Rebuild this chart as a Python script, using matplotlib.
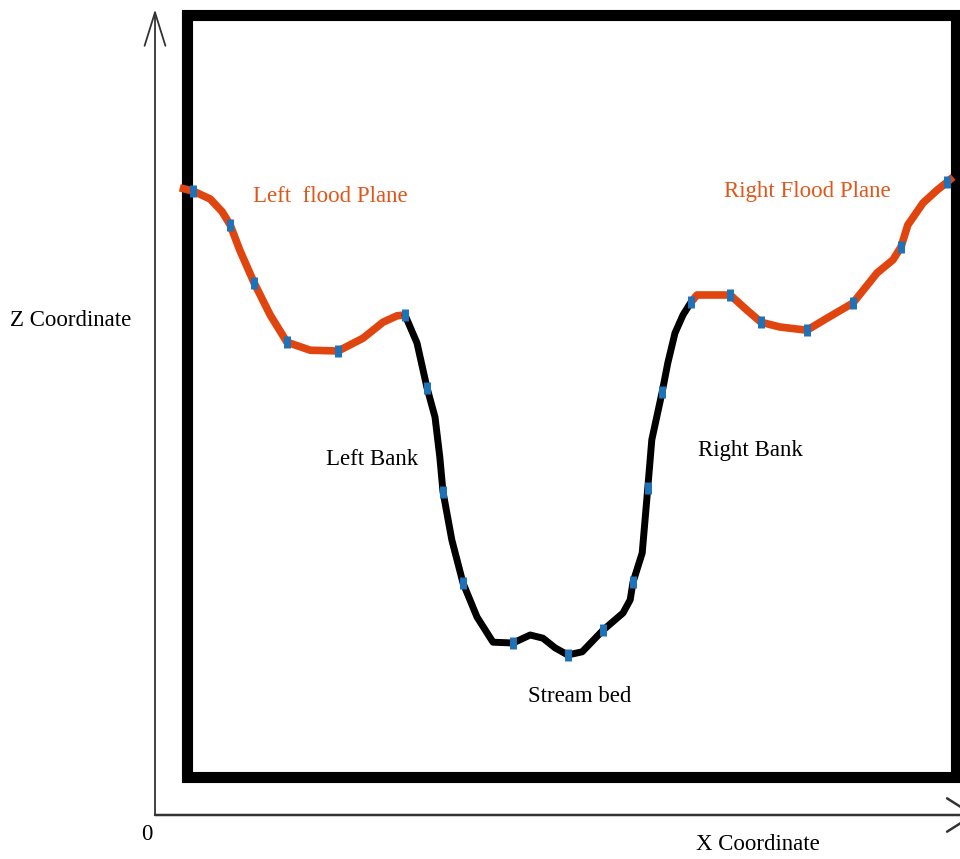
import matplotlib
matplotlib.use("Agg")
import matplotlib.pyplot as plt
from matplotlib.patches import Rectangle

# ---- data (X / Z coordinates, arbitrary units) ----
left_flood_x = [3.1, 4.75, 6.9, 8.4, 9.4, 10.6, 12.4, 14.4, 16.5, 19.4, 22.9, 26.0, 28.5, 30.25, 31.25]
left_flood_z = [78.4, 78.0, 77.0, 75.4, 73.75, 70.6, 66.5, 62.5, 59.1, 58.1, 58.0, 59.6, 61.6, 62.4, 62.5]

channel_x = [31.25, 32.75, 34.0, 35.0, 35.6, 36.0, 37.1, 38.5, 40.25, 42.25, 44.75, 46.9, 48.5, 50.0,
             51.6, 53.4, 56.0, 58.5, 59.4, 59.75, 60.9, 61.6, 62.1, 63.4, 64.1, 65.0, 66.0, 67.0]
channel_z = [62.5, 59.0, 53.4, 49.75, 44.75, 40.4, 34.4, 29.0, 24.75, 21.6, 21.5, 22.5, 22.1, 20.9,
             20.0, 20.4, 23.1, 25.25, 26.9, 29.1, 32.75, 40.9, 46.9, 52.9, 56.5, 60.25, 62.5, 64.1]

right_flood_x = [67.0, 67.75, 71.9, 74.0, 75.75, 78.1, 81.5, 84.0, 87.25, 90.25, 92.25, 93.25, 94.1, 96.0, 97.75, 99.0, 99.75]
right_flood_z = [64.1, 65.0, 65.0, 63.1, 61.6, 61.0, 60.6, 62.1, 64.0, 67.75, 69.4, 71.0, 73.75, 76.5, 78.1, 79.1, 79.75]

survey_x = [4.75, 9.4, 12.4, 16.5, 22.9, 31.25, 34.0, 36.0, 38.5, 44.75, 51.6, 56.0, 59.75, 61.6,
            63.4, 67.0, 71.9, 75.75, 81.5, 87.25, 93.25, 99.0]
survey_z = [78.0, 73.75, 66.5, 59.1, 58.0, 62.5, 53.4, 40.4, 29.0, 21.5, 20.0, 23.1, 29.1, 40.9,
            52.9, 64.1, 65.0, 61.6, 60.6, 64.0, 71.0, 79.1]

zone_labels = ["Left  flood Plane", "Right Flood Plane", "Left Bank", "Right Bank", "Stream bed"]
x_label = "X Coordinate"
z_label = "Z Coordinate"
origin_label = "0"

# ---- style ----
ORANGE = "#E0450F"
TEXT_ORANGE = "#E2561A"
BLUE = "#1F72B8"
FONT = "Liberation Serif"
FS = 16.5

fig = plt.figure(figsize=(9.6, 8.59), dpi=100)
ax = fig.add_axes([0, 0, 1, 1])
ax.set_xlim(-19.375, 100.625)
ax.set_ylim(-5.5, 101.875)
ax.axis("off")

# frame box
ax.add_patch(Rectangle((4.0, 4.75), 96.1, 95.2, fill=False, lw=8, ec="black", zorder=2))

# axis arrows
ax.annotate("", xy=(0, 100.7), xytext=(0, 0),
            arrowprops=dict(arrowstyle="->,head_length=2.4,head_width=0.75", lw=1.3, color="#333333",
                            shrinkA=0, shrinkB=0), annotation_clip=False)
ax.annotate("", xy=(102.6, 0), xytext=(0, 0),
            arrowprops=dict(arrowstyle="->,head_length=1.9,head_width=1.2", lw=1.8, color="#333333",
                            shrinkA=0, shrinkB=0), annotation_clip=False)

# profile
ax.plot(left_flood_x, left_flood_z, color=ORANGE, lw=5.5, solid_capstyle="butt", solid_joinstyle="round", zorder=3)
ax.plot(right_flood_x, right_flood_z, color=ORANGE, lw=5.5, solid_capstyle="butt", solid_joinstyle="round", zorder=3)
ax.plot(channel_x, channel_z, color="black", lw=5, solid_capstyle="round", solid_joinstyle="round", zorder=3)
ax.plot(survey_x, survey_z, ls="none", marker="|", ms=9, mew=5, color=BLUE, zorder=4)

# labels
tk = dict(fontfamily=FONT, fontsize=FS, ha="center", va="center")
ax.text(21.9, 77.25, zone_labels[0], color=TEXT_ORANGE, **tk)
ax.text(81.5, 78.0, zone_labels[1], color=TEXT_ORANGE, **tk)
ax.text(27.1, 44.4, zone_labels[2], color="black", **tk)
ax.text(74.4, 45.6, zone_labels[3], color="black", **tk)
ax.text(53.1, 14.75, zone_labels[4], color="black", **tk)
ax.text(75.4, -3.75, x_label, color="black", **tk)
ax.text(-10.6, 61.75, z_label, color="black", **tk)
ax.text(-1.0, -2.5, origin_label, color="black", **tk)

fig.savefig("out.png", dpi=100)
